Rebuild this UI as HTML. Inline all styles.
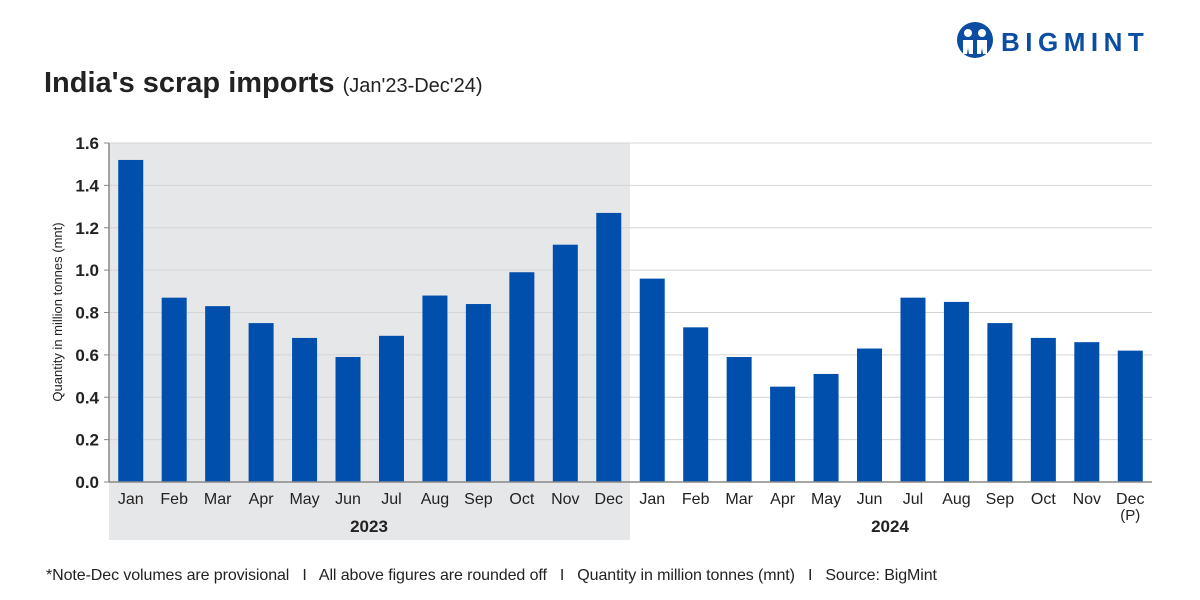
<!DOCTYPE html>
<html><head><meta charset="utf-8"><style>
body{margin:0;background:#fff;}
svg{display:block;font-family:"Liberation Sans",sans-serif;}
</style></head><body>
<svg id="chart" width="1200" height="600" viewBox="0 0 1200 600">
<rect x="0" y="0" width="1200" height="600" fill="#fff"/>
<rect x="109" y="143" width="521" height="397" fill="#e6e7e9"/>
<g>
<circle cx="975" cy="40" r="18" fill="#0a4da2"/>
<circle cx="968" cy="33" r="4" fill="#fff"/><circle cx="982" cy="33" r="4" fill="#fff"/>
<path d="M963 40 h10 v14 h-4 l-1 -6 l-1 6 h-4z M977 40 h10 v14 h-4 l-1 -6 l-1 6 h-4z" fill="#fff"/>
<text x="1001" y="51" font-size="26" font-weight="bold" fill="#0a4da2" letter-spacing="5.5">BIGMINT</text>
</g>
<text x="44" y="92" font-size="29" font-weight="bold" fill="#222">India's scrap imports <tspan font-size="20" font-weight="normal">(Jan'23-Dec'24)</tspan></text>
<g id="grid"></g>
<g id="bars"></g>
<g id="axes"></g>
<text transform="translate(62,312) rotate(-90)" text-anchor="middle" font-size="13" fill="#222">Quantity in million tonnes (mnt)</text>
<text x="369" y="532" text-anchor="middle" font-size="17" font-weight="bold" fill="#222">2023</text>
<text x="890" y="532" text-anchor="middle" font-size="17" font-weight="bold" fill="#222">2024</text>
<text x="46" y="580" font-size="16" fill="#222" xml:space="preserve" textLength="891">*Note-Dec volumes are provisional   I   All above figures are rounded off   I   Quantity in million tonnes (mnt)   I   Source: BigMint</text>
</svg>
<script>
const categories=["Jan","Feb","Mar","Apr","May","Jun","Jul","Aug","Sep","Oct","Nov","Dec","Jan","Feb","Mar","Apr","May","Jun","Jul","Aug","Sep","Oct","Nov","Dec"];
const values=[1.52,0.87,0.83,0.75,0.68,0.59,0.69,0.88,0.84,0.99,1.12,1.27,0.96,0.73,0.59,0.45,0.51,0.63,0.87,0.85,0.75,0.68,0.66,0.62];
const yTicks=[0,0.2,0.4,0.6,0.8,1.0,1.2,1.4,1.6];
const yTickLabels=["0.0","0.2","0.4","0.6","0.8","1.0","1.2","1.4","1.6"];
const NS="http://www.w3.org/2000/svg";
const x0=109,x1=1152,y0=482,yTop=143,yMax=1.6;
const band=(x1-x0)/categories.length;
const xScale=i=>x0+band*(i+0.5);
const yScale=v=>y0-(v/yMax)*(y0-yTop);
function mk(tag,attrs,parent){const e=document.createElementNS(NS,tag);for(const k in attrs)e.setAttribute(k,attrs[k]);parent.appendChild(e);return e;}
const grid=document.getElementById('grid'),bars=document.getElementById('bars'),axes=document.getElementById('axes');
yTicks.forEach((t,i)=>{
  const y=yScale(t);
  if(t>0){const g=mk('line',{x1:x0,x2:x1,y1:y,y2:y,stroke:'#d4d4d4','stroke-width':1},grid);
  
  }
  const tk=mk('line',{x1:x0-5,x2:x0,y1:y,y2:y,stroke:'#888'},axes);
  
  
  const lb=mk('text',{x:x0-10,y:y+6,'text-anchor':'end','font-size':17,'font-weight':'bold',fill:'#222'},axes);
  lb.textContent=yTickLabels[i];
  
  
});
values.forEach((v,i)=>{
  const w=25,cx=xScale(i);
  const r=mk('rect',{x:cx-w/2,y:yScale(v),width:w,height:y0-yScale(v),fill:'#004fac'},bars);
  
  
  const t=mk('text',{x:cx,y:504,'text-anchor':'middle','font-size':16,fill:'#222'},axes);
  t.textContent=categories[i];
  
  
  if(i===categories.length-1){const p=mk('text',{x:cx,y:520,'text-anchor':'middle','font-size':15,fill:'#222'},axes);p.textContent='(P)';
  
  }
});
const ya=mk('line',{x1:x0,x2:x0,y1:yTop,y2:y0,stroke:'#888','stroke-width':1.5},axes);


const xa=mk('line',{x1:x0,x2:x1,y1:y0,y2:y0,stroke:'#888','stroke-width':1.5},axes);


</script>
</body></html>
